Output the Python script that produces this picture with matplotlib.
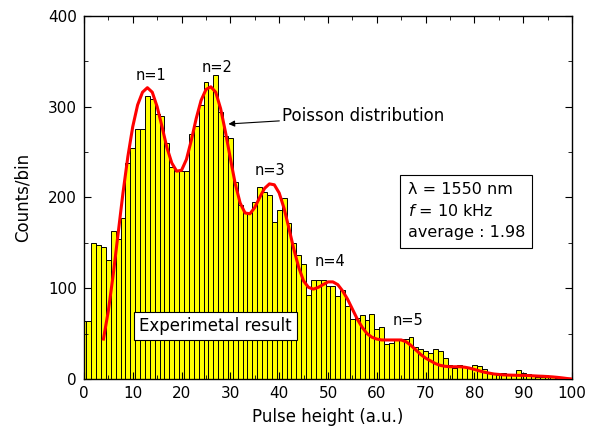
import numpy as np
import matplotlib.pyplot as plt
from matplotlib.ticker import MultipleLocator

# histogram, one bin per unit of pulse height (bins centred on integers)
bin_centers = list(range(0, 101))
counts = [64, 64, 150, 148, 145, 131, 163, 154, 177, 238,
          254, 275, 275, 312, 309, 292, 290, 260, 234, 229,
          229, 229, 270, 279, 302, 327, 322, 335, 294, 268,
          265, 217, 192, 183, 183, 195, 212, 206, 203, 173,
          186, 199, 172, 150, 137, 127, 93, 109, 109, 109,
          102, 102, 91, 98, 80, 66, 67, 70, 65, 72,
          55, 57, 39, 40, 44, 44, 44, 46, 35, 33,
          31, 29, 33, 31, 23, 15, 12, 15, 13, 12,
          15, 14, 11, 7, 7, 4, 7, 4, 4, 10,
          7, 5, 4, 2, 2, 2, 2, 1.5, 1, 0.5, 0]

# poisson fit curve
fit_x = [4, 5, 6, 7, 8, 9, 10, 11, 12, 13, 14, 15, 16, 17, 18, 19, 20,
         21, 22, 23, 24, 25, 26, 27, 28, 29, 30, 31, 32, 33, 34, 35, 36,
         37, 38, 39, 40, 41, 42, 43, 44, 45, 46, 47, 48, 49, 50, 51, 52,
         53, 54, 55, 56, 57, 58, 59, 60, 61, 62, 63, 64, 65, 66, 67, 68,
         69, 70, 71, 72, 73, 74, 75, 76, 77, 78, 79, 80, 81, 82, 83, 84,
         85, 86, 87, 88, 89, 90, 91, 92, 93, 94, 95, 96, 97, 98, 99, 100]
fit_y = [44, 75, 115, 160, 205, 245, 278, 302, 316, 321, 316, 300, 278,
         255, 238, 229, 230, 242, 263, 287, 307, 319, 322, 316, 298, 272,
         243, 215, 194, 183, 182, 189, 200, 210, 215, 214, 205, 188, 166,
         143, 123, 108, 101, 99, 101, 104, 107, 107, 104, 97, 88, 77, 66,
         57, 50, 46, 44, 43, 43, 43, 43, 43, 41, 37, 32, 27, 23, 20, 17,
         15, 14, 13.5, 13.5, 13.5, 13, 12, 10.5, 9, 7.5, 6.5, 5.5, 5, 4.5,
         4.3, 4.2, 4, 4, 3.8, 3.5, 3.2, 3, 2.7, 2.3, 1.8, 1.2, 0.5, 0]

peak_labels = ["n=1", "n=2", "n=3", "n=4", "n=5"]
peak_x = [13.7, 27.3, 38.1, 50.4, 66.4]
peak_y = [334, 343, 230, 129, 65]

fig = plt.figure(figsize=(5.91, 4.32), dpi=100)
ax = fig.add_axes([0.142, 0.1227, 0.826, 0.8403])

ax.bar(bin_centers, counts, width=1.0, color='#ffff00', edgecolor='black',
       linewidth=0.7, zorder=1)
ax.plot(fit_x, fit_y, color='#ff0000', linewidth=2.2, zorder=3)

for lab, x, y in zip(peak_labels, peak_x, peak_y):
    ax.text(x, y, lab, ha='center', va='center', fontsize=10.5)

ax.annotate("Poisson distribution", xy=(29.6, 281), xytext=(40.6, 290),
            fontsize=12, va='center', ha='left',
            arrowprops=dict(arrowstyle='-|>', color='black', lw=0.8,
                            mutation_scale=9, shrinkA=0, shrinkB=0))

ax.text(27, 58, "Experimetal result", ha='center', va='center', fontsize=12,
        zorder=4,
        bbox=dict(boxstyle='square,pad=0.3', facecolor='white',
                  edgecolor='black', linewidth=0.8))

ax.text(66.3, 185, "\u03bb = 1550 nm\n$f$ = 10 kHz\naverage : 1.98",
        ha='left', va='center', fontsize=11.5, linespacing=1.5,
        bbox=dict(boxstyle='square,pad=0.45', facecolor='white',
                  edgecolor='black', linewidth=0.8))

ax.set_xlim(0, 100)
ax.set_ylim(0, 400)
ax.xaxis.set_major_locator(MultipleLocator(10))
ax.xaxis.set_minor_locator(MultipleLocator(5))
ax.yaxis.set_major_locator(MultipleLocator(100))
ax.yaxis.set_minor_locator(MultipleLocator(50))
ax.tick_params(which='both', direction='in', top=True, right=True,
               labelsize=11)
ax.tick_params(which='major', length=5, pad=5)
ax.tick_params(which='minor', length=3)
for s in ax.spines.values():
    s.set_linewidth(1.0)

ax.set_xlabel("Pulse height (a.u.)", fontsize=12, labelpad=5)
ax.set_ylabel("Counts/bin", fontsize=12, labelpad=12)

fig.savefig("out.png", dpi=100)
